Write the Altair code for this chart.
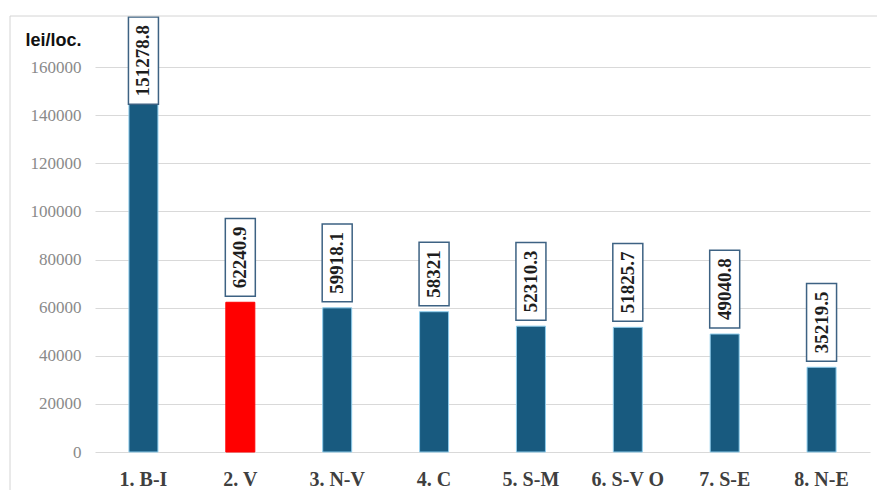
import altair as alt
import pandas as pd

# Average value per locality by development region
regions = ["1. B-I", "2. V", "3. N-V", "4. C", "5. S-M", "6. S-V O", "7. S-E", "8. N-E"]
values = [151278.8, 62240.9, 59918.1, 58321, 52310.3, 51825.7, 49040.8, 35219.5]
value_labels = ["151278.8", "62240.9", "59918.1", "58321", "52310.3", "51825.7", "49040.8", "35219.5"]
highlight = "2. V"
y_ticks = [0, 20000, 40000, 60000, 80000, 100000, 120000, 140000, 160000]

Y_MAX = 180000
PLOT_W, PLOT_H = 775, 433
LABEL_FS = 19
BAR_BLUE = "#185a7f"
BAR_EDGE = "#8fcdec"
Y_TITLE = "lei/loc."
units_per_px = Y_MAX / PLOT_H


def box_span(v, label):
    """Vertical extent (data units) of the boxed value label above a bar."""
    n_digits = sum(c.isdigit() for c in label)
    n_dots = label.count(".")
    h_px = 16 + LABEL_FS * (0.5 * n_digits + 0.25 * n_dots)
    bottom = v + 6 * units_per_px
    top = bottom + h_px * units_per_px
    if top > Y_MAX:
        top = Y_MAX + 2 * units_per_px
        bottom = top - h_px * units_per_px
    return bottom, top


rows = []
for r, v, lab in zip(regions, values, value_labels):
    b, t = box_span(v, lab)
    is_hl = r == highlight
    rows.append({
        "region": r,
        "value": v,
        "label": lab,
        "box_bottom": b,
        "box_top": t,
        "box_mid": (b + t) / 2,
        "color": "#ff0000" if is_hl else BAR_BLUE,
        "edge": "#ff0000" if is_hl else BAR_EDGE,
    })
df = pd.DataFrame(rows)

x_enc = alt.X(
    "region:N",
    sort=regions,
    title=None,
    scale=alt.Scale(paddingInner=0.69, paddingOuter=0.345),
    axis=alt.Axis(
        labelAngle=0,
        labelFont="Liberation Serif",
        labelFontWeight="bold",
        labelFontSize=20,
        labelColor="#3f3f3f",
        labelBaseline="alphabetic",
        labelPadding=33,
        ticks=False,
        domain=False,
    ),
)
y_scale = alt.Scale(domain=[0, Y_MAX], nice=False)
y_axis = alt.Axis(
    values=y_ticks,
    format="d",
    labelFont="Liberation Serif",
    labelFontSize=17,
    labelColor="#8a8a8a",
    labelPadding=14,
    ticks=False,
    domain=False,
    grid=True,
    gridColor="#d9d9d9",
    gridWidth=1,
    titleAngle=0,
    titleFont="Liberation Sans",
    titleFontWeight="bold",
    titleFontSize=18,
    titleColor="#111111",
    titleAlign="left",
    titleBaseline="alphabetic",
    titleX=-70,
    titleY=26,
)

bars = alt.Chart(df).mark_bar(size=29, strokeWidth=1).encode(
    x=x_enc,
    y=alt.Y("value:Q", scale=y_scale, axis=y_axis, title=Y_TITLE),
    color=alt.Color("color:N", scale=None),
    stroke=alt.Stroke("edge:N", scale=None),
)

boxes = alt.Chart(df).mark_bar(
    size=30, fill="white", stroke="#3d6283", strokeWidth=1.5
).encode(
    x=alt.X("region:N", sort=regions),
    y=alt.Y("box_bottom:Q", scale=y_scale, axis=y_axis, title=Y_TITLE),
    y2="box_top:Q",
)

texts = alt.Chart(df).mark_text(
    angle=270,
    align="center",
    baseline="middle",
    font="Liberation Serif",
    fontWeight="bold",
    fontSize=LABEL_FS,
    color="#1e1e1e",
).encode(
    x=alt.X("region:N", sort=regions),
    y=alt.Y("box_mid:Q", scale=y_scale, axis=y_axis, title=Y_TITLE),
    text="label:N",
)

# outer frame of the chart area (left and top edges)
frame_df = pd.DataFrame({"k": [0]})
frame_left = alt.Chart(frame_df).mark_rule(color="#d4d4d4", strokeWidth=1).encode(
    x=alt.value(-85), y=alt.value(-3), y2=alt.value(475)
)
frame_top = alt.Chart(frame_df).mark_rule(color="#d4d4d4", strokeWidth=1).encode(
    x=alt.value(-85), x2=alt.value(785), y=alt.value(-3)
)

chart = alt.layer(bars, boxes, texts, frame_left, frame_top).properties(
    width=PLOT_W,
    height=PLOT_H,
    padding={"left": 95, "top": 19, "right": 7, "bottom": 38},
    autosize=alt.AutoSizeParams(type="none"),
    background="white",
).configure_view(stroke=None)

chart.save("out.html", embed_options={"renderer": "svg", "actions": False})
